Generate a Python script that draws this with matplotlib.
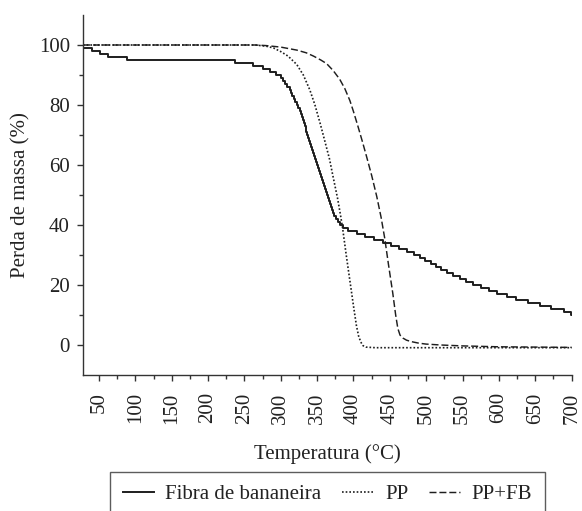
import matplotlib
matplotlib.use("Agg")
import matplotlib.pyplot as plt
from matplotlib.ticker import FixedLocator

plt.rcParams['font.family'] = ['Liberation Serif', 'DejaVu Serif']

# ---- data ----
# Fibra de bananeira: temperature at which each mass-% step begins
fibra_T = [28, 40, 51, 62, 88, 237, 262, 275, 285, 293, 300, 303, 306, 309, 312,
           314, 316, 318, 320, 322, 324, 326, 327.5, 329, 330.3, 331.5, 332.8,
           334, 335.3, 336.5, 337.8, 339, 340.3, 341.5, 342.8, 344.5, 345.8,
           347.1, 348.4, 349.7, 351, 352.3, 353.6, 354.9, 356.3, 358, 359.5,
           361, 362.5, 364, 365.2, 366.4, 367.6, 368.8, 370, 371.5, 373.5, 376,
           379, 382, 386, 393, 405, 416, 428, 441, 452, 463, 473, 483, 491, 499,
           506, 514, 521, 529, 537, 546, 555, 565, 575, 586, 598, 611, 624, 640,
           656, 672, 690, 699, 700]
fibra_val = [99, 98, 97, 96, 95, 94, 93, 92, 91, 90, 89, 88, 87, 86, 85,
             84, 83, 82, 81, 80, 79, 78, 77, 76, 75, 74, 73,
             72, 71, 70, 69, 68, 67, 66, 65, 64, 63,
             62, 61, 60, 59, 58, 57, 56, 55, 54, 53,
             52, 51, 50, 49, 48, 47, 46, 45, 44, 43, 42,
             41, 40, 39, 38, 37, 36, 35, 34, 33, 32, 31, 30, 29, 28,
             27, 26, 25, 24, 23, 22, 21, 20, 19, 18, 17, 16, 15, 14,
             13, 12, 11, 10, 10]

pp_T = [28, 265, 280, 290, 300, 310, 322, 331, 340, 347, 354, 360, 367, 372,
        378, 382, 385, 390, 395, 400, 404, 407, 410, 413, 417, 430, 700]
pp_val = [100, 100, 99.6, 99, 97.8, 96.3, 93.5, 90, 85, 80, 74, 68.5, 62, 56,
          49, 43.5, 39, 30, 21.5, 13, 6.5, 3, 1, -0.2, -0.7, -0.9, -0.9]

ppfb_T = [28, 265, 280, 300, 322, 335, 345, 355, 363, 372, 381, 388, 395, 400,
          406, 412, 418, 425, 432, 438, 443, 448, 454, 458, 461, 464, 468, 473,
          480, 490, 500, 520, 550, 600, 700]
ppfb_val = [100, 100, 99.8, 99.3, 98.3, 97.4, 96.3, 95, 93.8, 91.5, 88.6, 85.5,
            81.5, 77.8, 73, 68, 62.8, 56.5, 49.5, 42.5, 35.5, 27, 17.3, 10, 5.5,
            3.3, 2.3, 1.6, 1.1, 0.6, 0.3, 0, -0.3, -0.6, -0.8]

series_labels = ['Fibra de bananeira', 'PP', 'PP+FB']
x_ticks = [50, 100, 150, 200, 250, 300, 350, 400, 450, 500, 550, 600, 650, 700]
y_ticks = [0, 20, 40, 60, 80, 100]
x_minor = [75, 125, 175, 225, 275, 325, 375, 425, 475, 525, 575, 625, 675]
y_minor = [10, 30, 50, 70, 90]

W, H = 582, 511
fig = plt.figure(figsize=(W / 100, H / 100), dpi=100)
ax = fig.add_axes([83 / W, 1 - 375 / H, (572 - 83) / W, (375 - 15) / H])

dark = '#1e1e1e'
FS = 15
l1, = ax.plot(fibra_T, fibra_val, drawstyle='steps-post', color=dark, lw=1.4,
              label=series_labels[0])
l2, = ax.plot(pp_T, pp_val, color=dark, lw=1.2, linestyle=(0, (1.0, 1.2)),
              label=series_labels[1])
l3, = ax.plot(ppfb_T, ppfb_val, color=dark, lw=1.05, linestyle=(0, (4.8, 2.0)),
              label=series_labels[2])

ax.set_xlim(28, 700.5)
ax.set_ylim(-10, 110)

for s in ['top', 'right']:
    ax.spines[s].set_visible(False)
for s in ['left', 'bottom']:
    ax.spines[s].set_color('#333333')
    ax.spines[s].set_linewidth(1.0)

ax.xaxis.set_major_locator(FixedLocator(x_ticks))
ax.xaxis.set_minor_locator(FixedLocator(x_minor))
ax.yaxis.set_major_locator(FixedLocator(y_ticks))
ax.yaxis.set_minor_locator(FixedLocator(y_minor))

ax.tick_params(axis='both', which='major', direction='out', length=4.5,
               width=1.0, color='#333333', labelsize=FS, labelcolor='#222222')
ax.tick_params(axis='both', which='minor', direction='out', length=3,
               width=1.0, color='#333333')
ax.tick_params(axis='x', which='major', pad=8)
ax.tick_params(axis='y', which='major', pad=5)
for lab in ax.get_xticklabels():
    lab.set_rotation(90)

ax.set_xlabel('Temperatura (°C)', fontsize=FS, color='#222222', labelpad=15)
ax.set_ylabel('Perda de massa (%)', fontsize=FS, color='#222222', labelpad=6)

leg = fig.legend(handles=[l1, l2, l3], loc='upper center',
                 bbox_to_anchor=(327.5 / W, 1 - 472 / H), ncol=3, fontsize=FS,
                 frameon=True, fancybox=False, borderpad=0.6,
                 handlelength=1.5, handletextpad=0.55, columnspacing=1.0,
                 borderaxespad=0)
leg.get_frame().set_edgecolor('#333333')
leg.get_frame().set_linewidth(1.0)
for t in leg.get_texts():
    t.set_color('#222222')

fig.savefig('out.png', dpi=100)
